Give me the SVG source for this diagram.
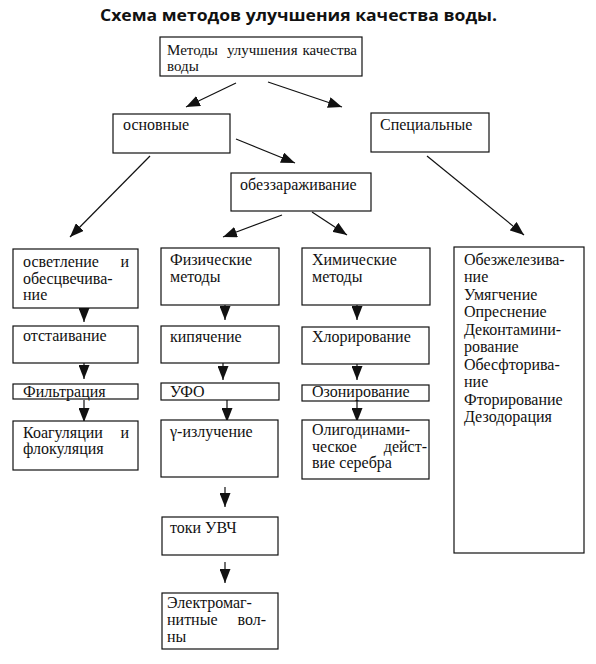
<svg xmlns="http://www.w3.org/2000/svg" width="596" height="664" viewBox="0 0 596 664">
<style>
.b{fill:#fff;stroke:#111;stroke-width:1.2}
.t{font-family:'Liberation Serif','Times New Roman','DejaVu Serif',serif;font-size:16px;fill:#111}
.s15{font-size:15px}
.c{stroke:#111;stroke-width:1.2;fill:none;marker-end:url(#ah)}
.title{font-family:'Open Sans','Liberation Sans',sans-serif;font-weight:bold;font-size:16px;fill:#111}
</style>
<defs>
<marker id="ah" viewBox="0 0 14 11" refX="14" refY="5.5" markerWidth="14" markerHeight="11" markerUnits="userSpaceOnUse" orient="auto">
<path d="M0,0 L14,5.5 L0,11 z" fill="#111"/>
</marker>
</defs>
<rect width="596" height="664" fill="#fff"/>
<text class="title" x="100" y="21" textLength="397" lengthAdjust="spacingAndGlyphs">Схема методов улучшения качества воды.</text>

<g id="connectors">
<line class="c" x1="236" y1="83" x2="186" y2="107"/>
<line class="c" x1="268" y1="82" x2="342" y2="107"/>
<line class="c" x1="236" y1="139" x2="295" y2="163"/>
<line class="c" x1="150" y1="156" x2="70" y2="237"/>
<line class="c" x1="427" y1="156" x2="524" y2="235"/>
<line class="c" x1="282" y1="215" x2="223" y2="237"/>
<line class="c" x1="312" y1="212" x2="347" y2="235"/>
<line class="c" x1="84" y1="300" x2="84" y2="322"/>
<line class="c" x1="84" y1="357" x2="84" y2="379"/>
<line class="c" x1="84" y1="400" x2="84" y2="422"/>
<line class="c" x1="225" y1="298" x2="225" y2="320"/>
<line class="c" x1="223" y1="357" x2="223" y2="380"/>
<line class="c" x1="227" y1="400" x2="227" y2="422"/>
<line class="c" x1="225" y1="487" x2="225" y2="507"/>
<line class="c" x1="225" y1="562" x2="225" y2="583"/>
<line class="c" x1="357" y1="298" x2="357" y2="320"/>
<line class="c" x1="357" y1="364" x2="357" y2="380"/>
<line class="c" x1="357" y1="401" x2="357" y2="422"/>
</g>

<g id="n-root">
<rect class="b" x="160" y="37" width="202" height="39"/>
<text class="t s15" x="167" y="55">Методы</text>
<text class="t s15" x="227" y="55">улучшения</text>
<text class="t s15" x="357" y="55" text-anchor="end">качества</text>
<text class="t s15" x="167" y="71">воды</text>
</g>

<g id="n-osnovnye">
<rect class="b" x="113" y="114" width="117" height="39"/>
<text class="t" x="123" y="130">основные</text>
</g>

<g id="n-special">
<rect class="b" x="371" y="113" width="118" height="39"/>
<text class="t" x="380" y="130">Специальные</text>
</g>

<g id="n-obezzar">
<rect class="b" x="231" y="173" width="140" height="38"/>
<text class="t" x="240" y="190">обеззараживание</text>
</g>

<g id="n-osvetl">
<rect class="b" x="13" y="249" width="125" height="59"/>
<text class="t" x="23" y="267">осветление</text>
<text class="t" x="129" y="267" text-anchor="end">и</text>
<text class="t" x="23" y="284">обесцвечива-</text>
<text class="t" x="23" y="300">ние</text>
</g>

<g id="n-otst">
<rect class="b" x="13" y="326" width="125" height="37"/>
<text class="t" x="23" y="341">отстаивание</text>
</g>

<g id="n-filtr">
<rect class="b" x="13" y="384" width="125" height="15"/>
<text class="t" x="23" y="397">Фильтрация</text>
</g>

<g id="n-koag">
<rect class="b" x="13" y="421" width="125" height="49"/>
<text class="t" x="23" y="438">Коагуляции</text>
<text class="t" x="129" y="438" text-anchor="end">и</text>
<text class="t" x="23" y="454">флокуляция</text>
</g>

<g id="n-fiz">
<rect class="b" x="161" y="248" width="118" height="57"/>
<text class="t" x="170" y="265">Физические</text>
<text class="t" x="170" y="282">методы</text>
</g>

<g id="n-kip">
<rect class="b" x="161" y="326" width="118" height="37"/>
<text class="t" x="170" y="342">кипячение</text>
</g>

<g id="n-ufo">
<rect class="b" x="161" y="383" width="118" height="17"/>
<text class="t" x="170" y="397">УФО</text>
</g>

<g id="n-gamma">
<rect class="b" x="161" y="420" width="117" height="57"/>
<text class="t" x="170" y="437">γ-излучение</text>
</g>

<g id="n-uvch">
<rect class="b" x="162" y="517" width="116" height="38"/>
<text class="t" x="170" y="533">токи УВЧ</text>
</g>

<g id="n-elmag">
<rect class="b" x="162" y="593" width="116" height="56"/>
<text class="t" x="167" y="608">Электромаг-</text>
<text class="t" x="167" y="625">нитные</text>
<text class="t" x="266" y="625" text-anchor="end">вол-</text>
<text class="t" x="167" y="642">ны</text>
</g>

<g id="n-him">
<rect class="b" x="302" y="248" width="128" height="57"/>
<text class="t" x="312" y="265">Химические</text>
<text class="t" x="312" y="282">методы</text>
</g>

<g id="n-hlor">
<rect class="b" x="302" y="327" width="127" height="37"/>
<text class="t" x="312" y="342">Хлорирование</text>
</g>

<g id="n-ozon">
<rect class="b" x="302" y="385" width="127" height="16"/>
<text class="t" x="312" y="397">Озонирование</text>
</g>

<g id="n-oligo">
<rect class="b" x="302" y="420" width="127" height="59"/>
<text class="t" x="312" y="435">Олигодинами-</text>
<text class="t" x="312" y="452">ческое</text>
<text class="t" x="427" y="452" text-anchor="end">дейст-</text>
<text class="t" x="312" y="468">вие серебра</text>
</g>

<g id="n-spec-list">
<rect class="b" x="454" y="247" width="130" height="306"/>
<text class="t" x="464" y="265">Обезжелезива-</text>
<text class="t" x="464" y="282">ние</text>
<text class="t" x="464" y="300">Умягчение</text>
<text class="t" x="464" y="317">Опреснение</text>
<text class="t" x="464" y="335">Деконтамини-</text>
<text class="t" x="464" y="352">рование</text>
<text class="t" x="464" y="370">Обесфторива-</text>
<text class="t" x="464" y="387">ние</text>
<text class="t" x="464" y="405">Фторирование</text>
<text class="t" x="464" y="422">Дезодорация</text>
</g>
</svg>
